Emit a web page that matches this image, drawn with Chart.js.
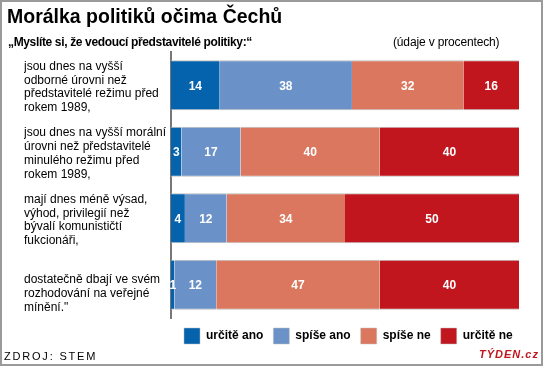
<!DOCTYPE html>
<html><head><meta charset="utf-8">
<script src="https://cdn.jsdelivr.net/npm/chart.js@4"></script>
<style>
html,body{margin:0;padding:0;background:#fff;}
#wrap{position:relative;width:543px;height:366px;overflow:hidden;font-family:"Liberation Sans",Arial,sans-serif;}
#frame{position:absolute;left:0;top:0;width:539px;height:362px;border:2px solid #9a9a9a;pointer-events:none;}
#c{position:absolute;left:0;top:0;}
.t{position:absolute;white-space:nowrap;color:#000;}
</style></head><body>
<div id="wrap">
<canvas id="c" width="543" height="366"></canvas>
<div class="t" id="title" style="left:7px;top:5px;font-size:19.5px;font-weight:bold;">Morálka politiků očima Čechů</div>
<div class="t" id="sub" style="left:8px;top:35px;font-size:12px;font-weight:bold;letter-spacing:-0.35px;">„Myslíte si, že vedoucí představitelé politiky:“</div>
<div class="t" style="left:393px;top:35px;font-size:12px;letter-spacing:-0.15px;">(údaje v procentech)</div>
<div class="t" style="left:4px;top:350px;font-size:11px;letter-spacing:1.8px;">ZDROJ: STEM</div>
<div class="t" style="left:479px;top:348px;font-size:11px;font-weight:bold;font-style:italic;letter-spacing:1px;color:#c1161e;">TÝDEN.cz</div>
<div id="frame"></div>
</div>
<script>
const categories = [
  ["jsou dnes na vyšší", "odborné úrovni než", "představitelé režimu před", "rokem 1989,"],
  ["jsou dnes na vyšší morální", "úrovni než představitelé", "minulého režimu před", "rokem 1989,"],
  ["mají dnes méně výsad,", "výhod, privilegií než", "bývalí komunističtí", "fukcionáři,"],
  ["", "dostatečně dbají ve svém", "rozhodování na veřejné", "mínění.\""]
];
const seriesNames = ["určitě ano", "spíše ano", "spíše ne", "určitě ne"];
const urciteAno = [14, 3, 4, 1];
const spiseAno = [38, 17, 12, 12];
const spiseNe = [32, 40, 34, 47];
const urciteNe = [16, 40, 50, 40];
const colors = ["#0563ae", "#6a92c9", "#db775e", "#c1161e"];

const seriesValues = [urciteAno, spiseAno, spiseNe, urciteNe];
const datasets = seriesNames.map((n, i) => ({
  label: n,
  data: seriesValues[i],
  backgroundColor: colors[i],
  borderColor: "#bcbcbc",
  borderWidth: {top: 1, bottom: 1, left: 0, right: 0},
  borderSkipped: false,
  categoryPercentage: 0.75,
  barPercentage: 1
}));

const labelPlugin = {
  id: "vals",
  afterLayout(chart) {
    const lg = chart.legend;
    if (lg) {
      const w = lg.right - lg.left;
      lg.left = chart.chartArea.left + 3;
      lg.right = lg.left + w;
    }
  },
  afterDatasetsDraw(chart) {
    const ctx = chart.ctx;
    ctx.save();
    ctx.font = "bold 12px 'Liberation Sans', Arial, sans-serif";
    ctx.fillStyle = "#fff";
    ctx.textAlign = "center";
    ctx.textBaseline = "middle";
    chart.data.datasets.forEach((ds, di) => {
      const meta = chart.getDatasetMeta(di);
      meta.data.forEach((bar, i) => {
        const p = bar.getProps(["x", "y", "base"], true);
        ctx.fillText(String(ds.data[i]), (p.x + p.base) / 2, p.y + 1);
      });
    });
    ctx.restore();
  }
};

new Chart(document.getElementById("c"), {
  type: "bar",
  data: { labels: categories, datasets },
  plugins: [labelPlugin],
  options: {
    indexAxis: "y",
    responsive: false,
    animation: false,
    layout: { padding: { left: 24, right: 24, top: 52, bottom: 12 } },
    scales: {
      x: { stacked: true, min: 0, max: 100, display: false },
      y: {
        stacked: true,
        grid: { display: false, drawTicks: false },
        border: { display: true, color: "#777", width: 2 },
        ticks: {
          crossAlign: "far",
          padding: 2,
          labelOffset: 2,
          color: "#000",
          font: { family: "'Liberation Sans', Arial, sans-serif", size: 12, lineHeight: 1.15 }
        },
        afterFit(scale) { scale.width = 147; }
      }
    },
    plugins: {
      legend: {
        position: "bottom",
        align: "start",
        fullSize: true,
        labels: {
          boxWidth: 16, boxHeight: 16, padding: 10, color: "#000",
          font: { family: "'Liberation Sans', Arial, sans-serif", size: 12, weight: "bold" }
        }
      },
      tooltip: { enabled: false }
    }
  }
});
</script>
</body></html>
